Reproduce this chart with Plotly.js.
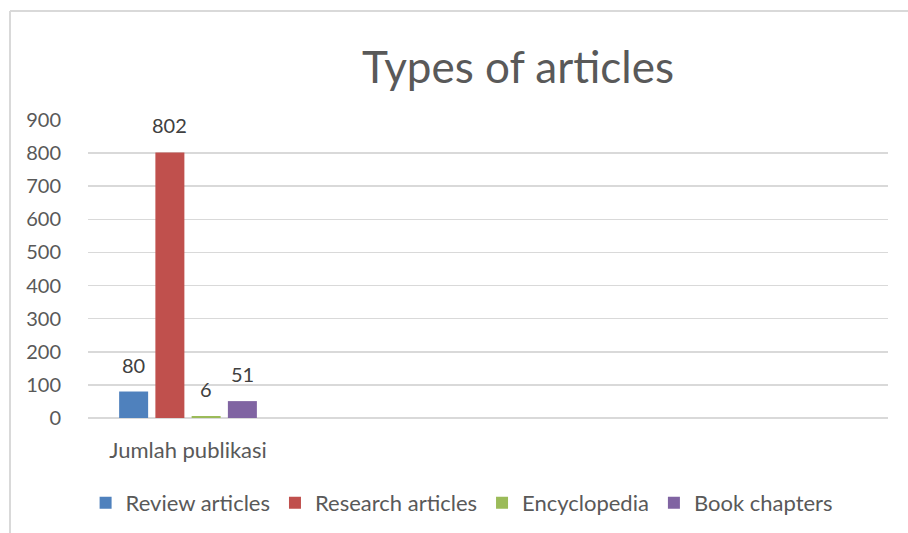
<!DOCTYPE html>
<html>
<head>
<meta charset="utf-8">
<script src="https://cdn.plot.ly/plotly-3.0.1.min.js"></script>
<style>
  html, body { margin: 0; padding: 0; background: #ffffff; }
  #chart { width: 908px; height: 533px; }
</style>
</head>
<body>
<div id="chart"></div>
<script>
// Publication counts by article type
const categories = ['Jumlah publikasi'];
const seriesNames = ['Review articles', 'Research articles', 'Encyclopedia', 'Book chapters'];
const reviewArticles = [80];
const researchArticles = [802];
const encyclopedia = [6];
const bookChapters = [51];
const yTickValues = [0, 100, 200, 300, 400, 500, 600, 700, 800, 900];

const seriesValues = [reviewArticles, researchArticles, encyclopedia, bookChapters];
const seriesColors = ['#4F81BD', '#C0504D', '#9BBB59', '#8064A2'];

const FONT = 'Lato, "Open Sans", sans-serif';
const BAR_GAP = 0.275;
const GROUP_GAP = 0.2;

// The category sits in the first of four equal slots on the x axis
const xIndex = categories.map((_, i) => i);

const traces = seriesValues.map((vals, s) => ({
  type: 'bar',
  name: seriesNames[s],
  x: xIndex,
  y: vals,
  marker: { color: seriesColors[s] },
  hoverinfo: 'name+y'
}));

// Value labels above each bar, placed at the grouped bar centres
const groupWidth = 1 - BAR_GAP;
const slot = groupWidth / seriesValues.length;
const annotations = [];
seriesValues.forEach((vals, s) => {
  vals.forEach((v, i) => {
    annotations.push({
      x: xIndex[i] - groupWidth / 2 + slot * (s + 0.5),
      y: v,
      xref: 'x', yref: 'y',
      text: String(v),
      showarrow: false,
      yanchor: 'bottom',
      yshift: 13,
      font: { family: FONT, size: 20, color: '#404040' }
    });
  });
});

const layout = {
  width: 908,
  height: 533,
  paper_bgcolor: '#ffffff',
  plot_bgcolor: '#ffffff',
  margin: { l: 88, r: 20, t: 120, b: 115, autoexpand: false },
  barmode: 'group',
  bargap: BAR_GAP,
  bargroupgap: GROUP_GAP,
  title: {
    text: 'Types of articles',
    font: { family: FONT, size: 44, color: '#595959' },
    x: 0.5375, xref: 'paper', xanchor: 'center',
    y: 0.874, yref: 'container', yanchor: 'middle'
  },
  xaxis: {
    range: [-0.5, 3.5],
    tickmode: 'array',
    tickvals: xIndex,
    ticktext: categories,
    showgrid: false,
    zeroline: false,
    showline: false,
    ticks: 'outside',
    ticklen: 13,
    tickcolor: 'rgba(0,0,0,0)',
    tickfont: { family: FONT, size: 22, color: '#595959' },
    fixedrange: true
  },
  yaxis: {
    range: [0, 900],
    tickmode: 'array',
    tickvals: yTickValues,
    ticktext: yTickValues.map(String),
    showgrid: true,
    gridcolor: '#d9d9d9',
    gridwidth: 1.5,
    zeroline: true,
    zerolinecolor: '#d9d9d9',
    zerolinewidth: 1.5,
    showline: false,
    ticks: 'outside',
    ticklen: 22,
    tickcolor: 'rgba(0,0,0,0)',
    tickfont: { family: FONT, size: 20, color: '#595959' },
    fixedrange: true
  },
  showlegend: true,
  legend: {
    orientation: 'h',
    x: 0.467, xanchor: 'center',
    y: -0.285, yanchor: 'middle',
    font: { family: FONT, size: 22, color: '#595959' },
    itemwidth: 30,
    traceorder: 'normal'
  },
  annotations: annotations,
  shapes: [
    // light frame around the chart area (top and left edges)
    { type: 'line', xref: 'paper', yref: 'paper',
      x0: -0.0975, x1: 1.03, y0: 1.366, y1: 1.366,
      line: { color: '#d9d9d9', width: 2 } },
    { type: 'line', xref: 'paper', yref: 'paper',
      x0: -0.0975, x1: -0.0975, y0: 1.366, y1: -0.4,
      line: { color: '#d9d9d9', width: 2 } }
  ]
};

Plotly.newPlot('chart', traces, layout, { displayModeBar: false, staticPlot: true });
</script>
</body>
</html>
